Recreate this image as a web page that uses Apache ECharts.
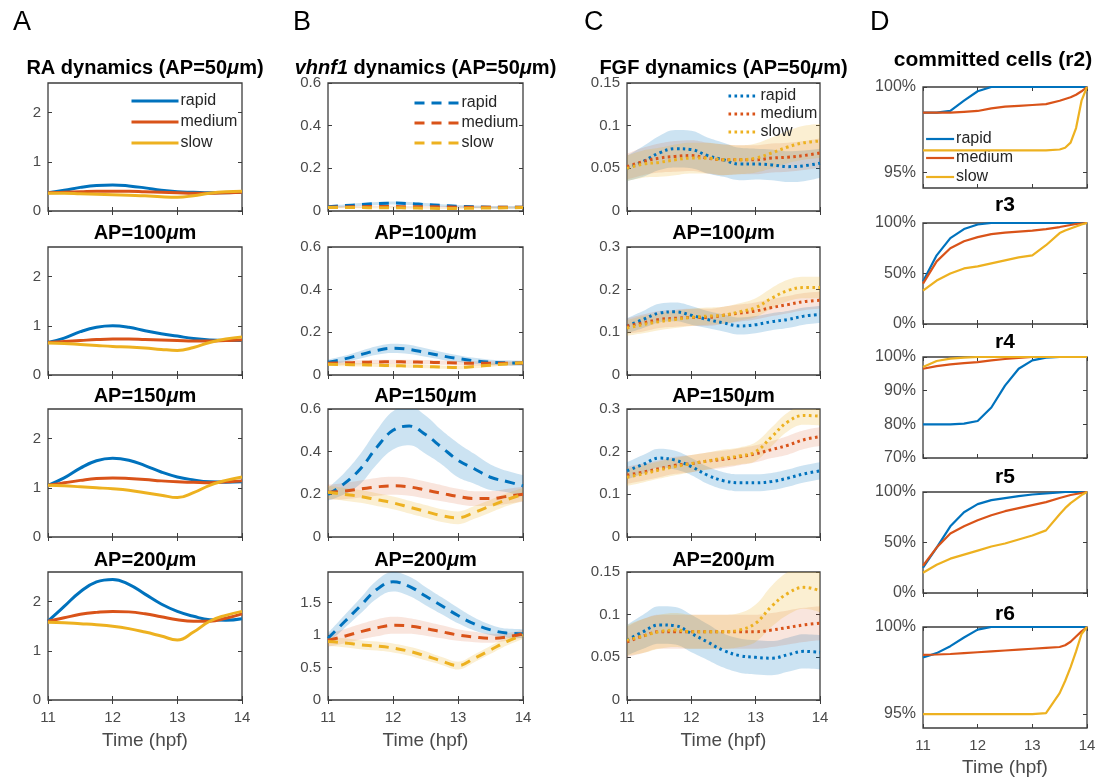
<!DOCTYPE html>
<html>
<head>
<meta charset="utf-8">
<script src="https://cdn.jsdelivr.net/npm/echarts@6.0.0/dist/echarts.min.js"></script>
<style>
  html, body { margin: 0; padding: 0; background: #fff; }
  #chart { width: 1106px; height: 780px; }
</style>
</head>
<body>
<div id="chart"></div>
<script>
// time axes (hpf)
const hpf = [11, 11.25, 11.5, 11.75, 12, 12.25, 12.5, 12.75, 13, 13.25, 13.5, 13.75, 14];
const hpfD = [11, 11.25, 11.5, 11.75, 12, 12.25, 12.5, 12.75, 13, 13.25, 13.5, 13.6, 13.7, 13.8, 13.9, 14];
const groups = ['rapid', 'medium', 'slow'];
const apLabels = ['50', '100', '150', '200'];
const rLabels = ['r2', 'r3', 'r4', 'r5', 'r6'];

// A: RA dynamics, one row per AP position
const raRapid = [
  [0.37, 0.42, 0.48, 0.52, 0.53, 0.51, 0.47, 0.42, 0.39, 0.38, 0.37, 0.37, 0.38],
  [0.66, 0.75, 0.88, 0.97, 1.0, 0.97, 0.9, 0.84, 0.79, 0.74, 0.71, 0.7, 0.7],
  [1.05, 1.2, 1.4, 1.55, 1.6, 1.56, 1.45, 1.32, 1.22, 1.16, 1.12, 1.11, 1.12],
  [1.6, 1.9, 2.2, 2.4, 2.45, 2.35, 2.15, 1.95, 1.8, 1.7, 1.63, 1.62, 1.65]
];
const raMedium = [
  [0.37, 0.38, 0.39, 0.4, 0.4, 0.4, 0.39, 0.38, 0.37, 0.36, 0.36, 0.37, 0.38],
  [0.66, 0.68, 0.7, 0.72, 0.73, 0.73, 0.72, 0.71, 0.7, 0.69, 0.69, 0.7, 0.71],
  [1.05, 1.1, 1.15, 1.19, 1.2, 1.19, 1.17, 1.14, 1.12, 1.11, 1.1, 1.12, 1.14],
  [1.6, 1.67, 1.74, 1.78, 1.8, 1.79, 1.75, 1.69, 1.63, 1.6, 1.6, 1.66, 1.75]
];
const raSlow = [
  [0.36, 0.36, 0.35, 0.34, 0.33, 0.32, 0.31, 0.29, 0.28, 0.31, 0.36, 0.39, 0.4],
  [0.65, 0.64, 0.62, 0.6, 0.58, 0.57, 0.55, 0.52, 0.5, 0.56, 0.66, 0.73, 0.77],
  [1.05, 1.04, 1.02, 1.0, 0.98, 0.95, 0.9, 0.85, 0.8, 0.9, 1.05, 1.15, 1.22],
  [1.58, 1.57, 1.55, 1.53, 1.5, 1.45, 1.38, 1.3, 1.22, 1.38, 1.6, 1.72, 1.8]
];
const raMax = [2.6, 2.6, 2.6, 2.6];
const raTicks = [[0, 1, 2], [0, 1, 2], [0, 1, 2], [0, 1, 2]];

// B: vhnf1 dynamics (mean and half-width of shaded band)
const vhRapid = [
  [0.02, 0.025, 0.03, 0.035, 0.037, 0.035, 0.03, 0.026, 0.022, 0.02, 0.018, 0.017, 0.017],
  [0.06, 0.075, 0.095, 0.115, 0.125, 0.12, 0.105, 0.09, 0.077, 0.067, 0.06, 0.057, 0.055],
  [0.2, 0.25, 0.32, 0.42, 0.5, 0.52, 0.48, 0.42, 0.36, 0.32, 0.28, 0.26, 0.24],
  [0.95, 1.2, 1.45, 1.7, 1.82, 1.75, 1.6, 1.45, 1.3, 1.17, 1.08, 1.03, 1.02]
];
const vhMedium = [
  [0.018, 0.019, 0.02, 0.021, 0.021, 0.02, 0.02, 0.019, 0.018, 0.018, 0.017, 0.017, 0.017],
  [0.055, 0.057, 0.059, 0.061, 0.062, 0.061, 0.06, 0.058, 0.056, 0.055, 0.055, 0.055, 0.056],
  [0.21, 0.215, 0.225, 0.235, 0.24, 0.235, 0.22, 0.205, 0.19, 0.18, 0.18, 0.19, 0.2],
  [0.92, 0.98, 1.05, 1.11, 1.15, 1.14, 1.1, 1.05, 1.0, 0.97, 0.95, 0.97, 1.02]
];
const vhSlow = [
  [0.016, 0.016, 0.016, 0.015, 0.015, 0.014, 0.013, 0.012, 0.012, 0.013, 0.014, 0.015, 0.016],
  [0.05, 0.049, 0.048, 0.046, 0.044, 0.042, 0.04, 0.037, 0.035, 0.04, 0.046, 0.052, 0.057],
  [0.21, 0.2, 0.19, 0.175, 0.16, 0.14, 0.12, 0.1, 0.09, 0.115, 0.145, 0.175, 0.2],
  [0.9, 0.88, 0.85, 0.83, 0.8, 0.75, 0.68, 0.6, 0.53, 0.64, 0.77, 0.9, 1.0]
];
const vhRapidSd = [
  [0.006, 0.006, 0.007, 0.007, 0.007, 0.007, 0.007, 0.006, 0.006, 0.006, 0.006, 0.006, 0.006],
  [0.012, 0.015, 0.018, 0.02, 0.022, 0.022, 0.02, 0.018, 0.016, 0.014, 0.012, 0.012, 0.012],
  [0.03, 0.05, 0.07, 0.08, 0.09, 0.09, 0.09, 0.08, 0.08, 0.07, 0.06, 0.05, 0.05],
  [0.08, 0.1, 0.12, 0.14, 0.15, 0.15, 0.14, 0.13, 0.12, 0.1, 0.08, 0.07, 0.07]
];
const vhMediumSd = [
  [0.004, 0.004, 0.004, 0.004, 0.004, 0.004, 0.004, 0.004, 0.004, 0.004, 0.004, 0.004, 0.004],
  [0.01, 0.01, 0.01, 0.01, 0.01, 0.01, 0.01, 0.01, 0.01, 0.01, 0.01, 0.01, 0.01],
  [0.035, 0.038, 0.04, 0.042, 0.042, 0.042, 0.04, 0.038, 0.036, 0.035, 0.035, 0.035, 0.035],
  [0.1, 0.11, 0.12, 0.13, 0.13, 0.12, 0.11, 0.1, 0.09, 0.08, 0.07, 0.06, 0.06]
];
const vhSlowSd = [
  [0.003, 0.003, 0.003, 0.003, 0.003, 0.003, 0.003, 0.003, 0.003, 0.003, 0.003, 0.003, 0.003],
  [0.008, 0.008, 0.008, 0.008, 0.008, 0.008, 0.008, 0.008, 0.008, 0.008, 0.008, 0.008, 0.008],
  [0.03, 0.03, 0.03, 0.03, 0.03, 0.03, 0.03, 0.03, 0.03, 0.03, 0.03, 0.03, 0.03],
  [0.07, 0.07, 0.07, 0.07, 0.07, 0.07, 0.07, 0.06, 0.06, 0.06, 0.06, 0.06, 0.06]
];
const vhMax = [0.6, 0.6, 0.6, 1.97];
const vhTicks = [[0, 0.2, 0.4, 0.6], [0, 0.2, 0.4, 0.6], [0, 0.2, 0.4, 0.6], [0, 0.5, 1, 1.5]];

// C: FGF dynamics
const fgfRapid = [
  [0.05, 0.058, 0.068, 0.073, 0.072, 0.065, 0.06, 0.055, 0.055, 0.054, 0.052, 0.053, 0.056],
  [0.115, 0.13, 0.145, 0.148, 0.14, 0.13, 0.122, 0.115, 0.118, 0.125, 0.13, 0.138, 0.142],
  [0.155, 0.17, 0.185, 0.18, 0.165, 0.145, 0.132, 0.127, 0.127, 0.13, 0.138, 0.148, 0.155],
  [0.07, 0.08, 0.088, 0.087, 0.078, 0.068, 0.058, 0.052, 0.05, 0.049, 0.053, 0.057, 0.056]
];
const fgfMedium = [
  [0.052, 0.058, 0.062, 0.064, 0.065, 0.062, 0.06, 0.06, 0.06, 0.062, 0.063, 0.065, 0.068],
  [0.115, 0.122, 0.13, 0.133, 0.135, 0.135, 0.14, 0.145, 0.15, 0.158, 0.165, 0.172, 0.175],
  [0.145, 0.152, 0.16, 0.168, 0.172, 0.178, 0.182, 0.188, 0.195, 0.205, 0.215, 0.228, 0.235],
  [0.068, 0.075, 0.08, 0.08, 0.08, 0.08, 0.08, 0.08, 0.08, 0.082, 0.085, 0.088, 0.09]
];
const fgfSlow = [
  [0.05, 0.055, 0.057, 0.06, 0.062, 0.062, 0.06, 0.06, 0.062, 0.068, 0.075, 0.08, 0.082],
  [0.11, 0.118, 0.125, 0.13, 0.135, 0.138, 0.14, 0.148, 0.158, 0.18, 0.198, 0.205, 0.205],
  [0.14, 0.148, 0.157, 0.165, 0.172, 0.178, 0.185, 0.19, 0.2, 0.235, 0.27, 0.285, 0.283],
  [0.07, 0.075, 0.08, 0.082, 0.08, 0.08, 0.08, 0.082, 0.09, 0.11, 0.125, 0.132, 0.128]
];
const fgfRapidSd = [
  [0.015, 0.018, 0.02, 0.022, 0.022, 0.021, 0.02, 0.019, 0.018, 0.018, 0.018, 0.018, 0.017],
  [0.018, 0.02, 0.022, 0.022, 0.022, 0.02, 0.02, 0.02, 0.02, 0.02, 0.02, 0.02, 0.02],
  [0.02, 0.022, 0.022, 0.022, 0.02, 0.02, 0.02, 0.02, 0.02, 0.02, 0.02, 0.02, 0.02],
  [0.018, 0.02, 0.022, 0.022, 0.022, 0.021, 0.02, 0.02, 0.02, 0.02, 0.02, 0.02, 0.02]
];
const fgfMediumSd = [
  [0.015, 0.016, 0.017, 0.018, 0.018, 0.018, 0.018, 0.017, 0.017, 0.017, 0.017, 0.017, 0.017],
  [0.018, 0.02, 0.02, 0.02, 0.02, 0.02, 0.02, 0.02, 0.02, 0.02, 0.02, 0.02, 0.02],
  [0.02, 0.02, 0.02, 0.02, 0.02, 0.02, 0.02, 0.02, 0.02, 0.02, 0.022, 0.022, 0.022],
  [0.018, 0.02, 0.02, 0.02, 0.02, 0.02, 0.02, 0.02, 0.02, 0.02, 0.02, 0.02, 0.02]
];
const fgfSlowSd = [
  [0.015, 0.016, 0.017, 0.018, 0.018, 0.018, 0.018, 0.017, 0.017, 0.018, 0.019, 0.02, 0.02],
  [0.018, 0.02, 0.02, 0.02, 0.02, 0.02, 0.02, 0.02, 0.022, 0.024, 0.025, 0.025, 0.025],
  [0.02, 0.02, 0.02, 0.02, 0.02, 0.02, 0.02, 0.02, 0.022, 0.022, 0.022, 0.022, 0.022],
  [0.018, 0.02, 0.02, 0.02, 0.02, 0.02, 0.02, 0.02, 0.022, 0.024, 0.025, 0.025, 0.025]
];
const fgfMax = [0.15, 0.3, 0.3, 0.15];
const fgfTicks = [[0, 0.05, 0.1, 0.15], [0, 0.1, 0.2, 0.3], [0, 0.1, 0.2, 0.3], [0, 0.05, 0.1, 0.15]];

// D: committed cells (%), one row per rhombomere
const comRapid = [
  [98.5, 98.5, 98.6, 99.2, 99.75, 100, 100, 100, 100, 100, 100, 100, 100, 100, 100, 100],
  [42, 68, 85, 94, 98.5, 100, 100, 100, 100, 100, 100, 100, 100, 100, 100, 100],
  [80, 80, 80, 80.2, 81, 85, 91.5, 96.5, 99, 99.8, 100, 100, 100, 100, 100, 100],
  [25, 45, 66, 80, 88, 92, 94, 96, 97.5, 98.5, 99.5, 100, 100, 100, 100, 100],
  [98.25, 98.5, 98.9, 99.4, 99.85, 100, 100, 100, 100, 100, 100, 100, 100, 100, 100, 100]
];
const comMedium = [
  [98.5, 98.5, 98.5, 98.55, 98.6, 98.75, 98.85, 98.9, 98.95, 99.0, 99.2, 99.3, 99.4, 99.55, 99.75, 100],
  [40, 62, 75, 82, 86, 89, 90.5, 91.5, 92.5, 94, 96, 97, 98, 99, 99.5, 100],
  [96.5, 97.3, 97.8, 98.2, 98.5, 99, 99.4, 99.7, 100, 100, 100, 100, 100, 100, 100, 100],
  [27, 45, 59, 66, 72, 77, 81, 84, 87, 90, 94, 95.5, 97, 98, 99, 100],
  [98.4, 98.42, 98.45, 98.5, 98.55, 98.6, 98.65, 98.7, 98.75, 98.8, 98.85, 98.95, 99.15, 99.45, 99.75, 100]
];
const comSlow = [
  [96.3, 96.3, 96.3, 96.3, 96.3, 96.3, 96.3, 96.3, 96.3, 96.3, 96.35, 96.45, 96.75, 97.6, 99.2, 100],
  [33, 43, 50, 55, 57, 60, 63, 66, 68, 78, 90, 92.5, 94.5, 96.5, 98.5, 100],
  [97, 98.8, 99.5, 99.8, 100, 100, 100, 100, 100, 100, 100, 100, 100, 100, 100, 100],
  [20, 28, 34, 38, 42, 46, 49, 53, 57, 62, 78, 84, 89, 93, 97, 100],
  [95, 95, 95, 95, 95, 95, 95, 95, 95, 95.05, 96.2, 96.9, 97.7, 98.6, 99.6, 100]
];
const comMin = [94.1, 0, 70, 0, 94.2];
const comTicks = [[95, 100], [0, 50, 100], [70, 80, 90, 100], [0, 50, 100], [95, 100]];

// ---------------------------------------------------------------
const FONT = 'Liberation Sans, Arial, Helvetica, sans-serif';
const COLORS = ['#0072BD', '#D95319', '#EDB120'];
const BANDS = ['rgba(0,114,189,0.20)', 'rgba(217,83,25,0.15)', 'rgba(237,177,32,0.20)'];
const AXIS_GREY = '#3d3d3d';
const LABEL_GREY = '#4a4a4a';

const colLeft = [48, 328, 627];
const colWidth = [194, 195, 193];
const rowTop = [83, 247, 409, 572];
const rowH = 128;
const dLeft = 923, dWidth = 164, dH = 101;
const dTop = [87, 223, 357, 492, 627];

const grid = [], xAxis = [], yAxis = [], series = [], legend = [], graphic = [];

// cats: category labels (evenly spaced hpf samples) or null for a numeric time axis
function addPanel(left, top, width, height, cats, yMin, yMax, yTicks, yFmt, bottom, nameGap, yFont) {
  const g = grid.length;
  grid.push({ left, top, width, height, show: true, borderColor: AXIS_GREY, borderWidth: 1.3 });
  const tick = { show: true, inside: true, length: 4, lineStyle: { color: AXIS_GREY, width: 1 } };
  const xBase = cats
    ? { type: 'category', data: cats, boundaryGap: false }
    : { type: 'value', min: 11, max: 14, interval: 1 };
  const xTick = cats ? Object.assign({ interval: 3 }, tick) : tick;
  xAxis.push(Object.assign({
    gridIndex: g, axisLine: { show: false }, axisTick: xTick, splitLine: { show: false },
    axisLabel: { show: bottom, interval: 3, margin: 10, color: LABEL_GREY, fontSize: 15, fontFamily: FONT },
    name: bottom ? 'Time (hpf)' : '', nameLocation: 'middle', nameGap,
    nameTextStyle: { color: LABEL_GREY, fontSize: 19, fontFamily: FONT }
  }, xBase));
  xAxis.push(Object.assign({
    gridIndex: g, position: 'top',
    axisLine: { show: false }, axisTick: xTick, axisLabel: { show: false }, splitLine: { show: false }
  }, xBase));
  yAxis.push({
    gridIndex: g, type: 'value', min: yMin, max: yMax,
    axisLine: { show: false }, splitLine: { show: false },
    axisTick: Object.assign({ customValues: yTicks }, tick),
    axisLabel: { customValues: yTicks, formatter: yFmt, margin: 7, color: LABEL_GREY, fontSize: yFont, fontFamily: FONT }
  });
  yAxis.push({
    gridIndex: g, type: 'value', position: 'right', min: yMin, max: yMax,
    axisLine: { show: false }, splitLine: { show: false },
    axisTick: Object.assign({ customValues: yTicks }, tick), axisLabel: { show: false }
  });
  return g;
}

function addLine(g, name, data, color, width, dash, smooth) {
  series.push({
    type: 'line', name, xAxisIndex: 2 * g, yAxisIndex: 2 * g, data,
    symbol: 'none', showSymbol: false, smooth,
    lineStyle: { color, width, type: dash, cap: 'butt' },
    itemStyle: { color }, z: 4, silent: true
  });
}

// shaded band: invisible lower edge, stacked width filled on top of it
function addBand(g, key, mid, sd, fill) {
  const base = { type: 'line', xAxisIndex: 2 * g, yAxisIndex: 2 * g, stack: key, stackStrategy: 'all',
    symbol: 'none', showSymbol: false, smooth: 0.4, silent: true, z: 2, lineStyle: { width: 0, opacity: 0 } };
  series.push(Object.assign({}, base, { data: mid.map((v, i) => v - sd[i]) }));
  series.push(Object.assign({}, base, { data: sd.map(s => 2 * s), areaStyle: { color: fill, opacity: 1 } }));
}

function addTitle(x, y, text, rich) {
  graphic.push({
    type: 'text', x, y, z: 10,
    style: { text, align: 'center', verticalAlign: 'top', fill: '#000', rich }
  });
}

const titleRich = {
  b: { fontWeight: 'bold', fontSize: 20, fontFamily: FONT, fill: '#000' },
  i: { fontWeight: 'bold', fontStyle: 'italic', fontSize: 20, fontFamily: FONT, fill: '#000' }
};
const apText = n => '{b|AP=' + n + '}{i|\u03bc}{b|m}';
const numFmt = v => String(+(+v).toFixed(3));
const pctFmt = v => Math.round(v) + '%';
const hpfCats = hpf.map(String);

// panel letters
[['A', 13], ['B', 293], ['C', 584], ['D', 870]].forEach(([t, x]) => {
  graphic.push({ type: 'text', x, y: 9, style: { text: t, fill: '#000', font: '27px ' + FONT } });
});

const titleTops = [58, 223, 386, 550];
const suffix = ['', '\u200b', '\u200b\u200b', '\u200b\u200b\u200b'];

// columns A, B, C
const columns = [
  { mid: [raRapid, raMedium, raSlow], sd: null, max: raMax, ticks: raTicks, dash: 'solid',
    head: '{b|RA dynamics (AP=50}{i|\u03bc}{b|m)}' },
  { mid: [vhRapid, vhMedium, vhSlow], sd: [vhRapidSd, vhMediumSd, vhSlowSd], max: vhMax, ticks: vhTicks, dash: [10, 7],
    head: '{i|vhnf1}{b| dynamics (AP=50}{i|\u03bc}{b|m)}' },
  { mid: [fgfRapid, fgfMedium, fgfSlow], sd: [fgfRapidSd, fgfMediumSd, fgfSlowSd], max: fgfMax, ticks: fgfTicks, dash: [2.6, 3.4],
    head: '{b|FGF dynamics (AP=50}{i|\u03bc}{b|m)}' }
];

columns.forEach((col, c) => {
  const cx = colLeft[c] + colWidth[c] / 2;
  for (let r = 0; r < 4; r++) {
    const g = addPanel(colLeft[c], rowTop[r], colWidth[c], rowH, hpfCats, 0, col.max[r], col.ticks[r], numFmt, r === 3, 31, 15);
    addTitle(cx, titleTops[r], r === 0 ? col.head : apText(apLabels[r]), titleRich);
    for (let s = 0; s < 3; s++) {
      if (col.sd) addBand(g, 'band' + c + '_' + r + '_' + s, col.mid[s][r], col.sd[s][r], BANDS[s]);
    }
    for (let s = 0; s < 3; s++) {
      addLine(g, groups[s] + suffix[c], col.mid[s][r], COLORS[s], 3, col.dash, c === 0 ? 0.45 : 0.4);
    }
  }
});

// column D
const dRich = { b: { fontWeight: 'bold', fontSize: 21, fontFamily: FONT, fill: '#000' } };
const dTitleTops = [50, 195, 332, 467, 604];
const comRows = [comRapid, comMedium, comSlow];
for (let r = 0; r < 5; r++) {
  const g = addPanel(dLeft, dTop[r], dWidth, dH, null, comMin[r], 100, comTicks[r], pctFmt, r === 4, 30, 16);
  addTitle(r === 0 ? 993 : dLeft + dWidth / 2, dTitleTops[r], r === 0 ? '{b|committed cells (r2)}' : '{b|' + rLabels[r] + '}', dRich);
  for (let s = 0; s < 3; s++) {
    addLine(g, groups[s] + suffix[3], hpfD.map((t, i) => [t, comRows[s][r][i]]), COLORS[s], 2.2, 'solid', false);
  }
}

// legends
const legendBase = {
  orient: 'vertical', itemHeight: 14, selectedMode: false, padding: 0,
  itemStyle: { opacity: 0 },
  textStyle: { fontSize: 16, color: '#262626', fontFamily: FONT, padding: [0, 0, 0, -3] },
  formatter: n => n.replace(/\u200b/g, '')
};
[
  { left: 130, top: 93, itemWidth: 47, itemGap: 5, w: 3 },
  { left: 413, top: 95, itemWidth: 45, itemGap: 4, w: 3 },
  { left: 727, top: 88, itemWidth: 30, itemGap: 2, w: 3 },
  { left: 925, top: 131, itemWidth: 28, itemGap: 3, w: 2.2 }
].forEach((L, i) => {
  legend.push(Object.assign({}, legendBase, {
    left: L.left, top: L.top, itemWidth: L.itemWidth, itemGap: L.itemGap,
    lineStyle: { width: L.w },
    data: groups.map(n => n + suffix[i])
  }));
});

const chart = echarts.init(document.getElementById('chart'), null, { renderer: 'canvas' });
chart.setOption({
  animation: false,
  backgroundColor: '#fff',
  grid, xAxis, yAxis, series, legend, graphic
});
</script>
</body>
</html>
